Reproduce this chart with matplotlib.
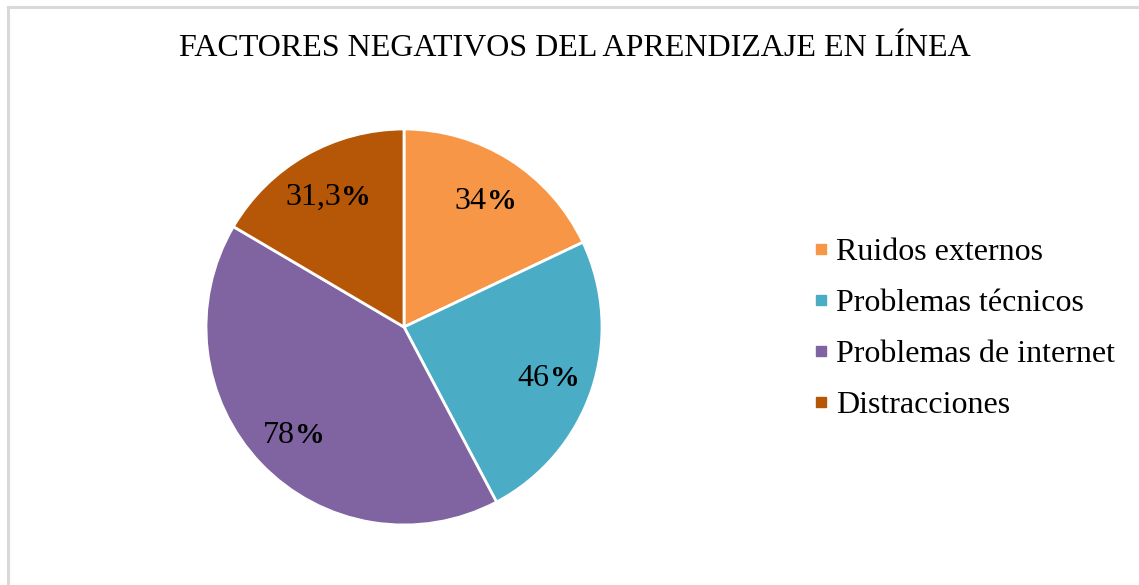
import matplotlib.pyplot as plt
from matplotlib.lines import Line2D
import numpy as np

# Datos del grafico
categorias = ['Ruidos externos', 'Problemas técnicos', 'Problemas de internet', 'Distracciones']
valores = [34, 46, 78, 31.3]
etiquetas = ['34', '46', '78', '31,3']
colores = ['#F79646', '#4BACC6', '#8064A2', '#B65708']

plt.rcParams['font.family'] = ['Liberation Serif', 'DejaVu Serif']

fig = plt.figure(figsize=(11.39, 5.85), dpi=100)

# marco gris (solo arriba e izquierda visibles)
fig.add_artist(Line2D([7.5 / 1139, 7.5 / 1139], [0, 1 - 6.5 / 585], transform=fig.transFigure,
                      color='#D9D9D9', lw=2.2))
fig.add_artist(Line2D([7.5 / 1139, 1], [1 - 6.5 / 585, 1 - 6.5 / 585], transform=fig.transFigure,
                      color='#D9D9D9', lw=2.2))

fig.text(575 / 1139, 1 - 49 / 585, 'FACTORES NEGATIVOS DEL APRENDIZAJE EN LÍNEA',
         ha='center', va='center', fontsize=23)

ax = fig.add_axes([(404 - 198) / 1139, (585 - 327 - 198) / 585, 396 / 1139, 396 / 585])
wedges, _ = ax.pie(valores, colors=colores, startangle=90, counterclock=False,
                   wedgeprops=dict(edgecolor='white', linewidth=2))
ax.set_xlim(-1, 1)
ax.set_ylim(-1, 1)
ax.set_aspect('equal')

# etiquetas con el signo % en negrita
renderer = fig.canvas.get_renderer()
for w, num in zip(wedges, etiquetas):
    ang = np.deg2rad((w.theta1 + w.theta2) / 2)
    x, y = 0.77 * np.cos(ang), 0.77 * np.sin(ang)
    t1 = ax.text(x, y, num, ha='right', va='center', fontsize=23)
    t2 = ax.text(x, y, '%', ha='left', va='center', fontsize=21.5, fontweight='bold')
    w1 = t1.get_window_extent(renderer).width
    w2 = t2.get_window_extent(renderer).width
    shift = (w1 - w2) / 2
    pos = ax.transData.transform((x, y)) + np.array([shift, -3])
    xd, yd = ax.transData.inverted().transform(pos)
    t1.set_position((xd, yd))
    t2.set_position((xd, yd))

handles = [Line2D([], [], marker='s', linestyle='none', markersize=7.5, color=c) for c in colores]
fig.legend(handles, categorias, loc='center left', bbox_to_anchor=(785 / 1139, 1 - 329 / 585),
           frameon=False, fontsize=23, handlelength=0.45, handletextpad=0.25, labelspacing=0.68)

fig.savefig('out.png', dpi=100)
